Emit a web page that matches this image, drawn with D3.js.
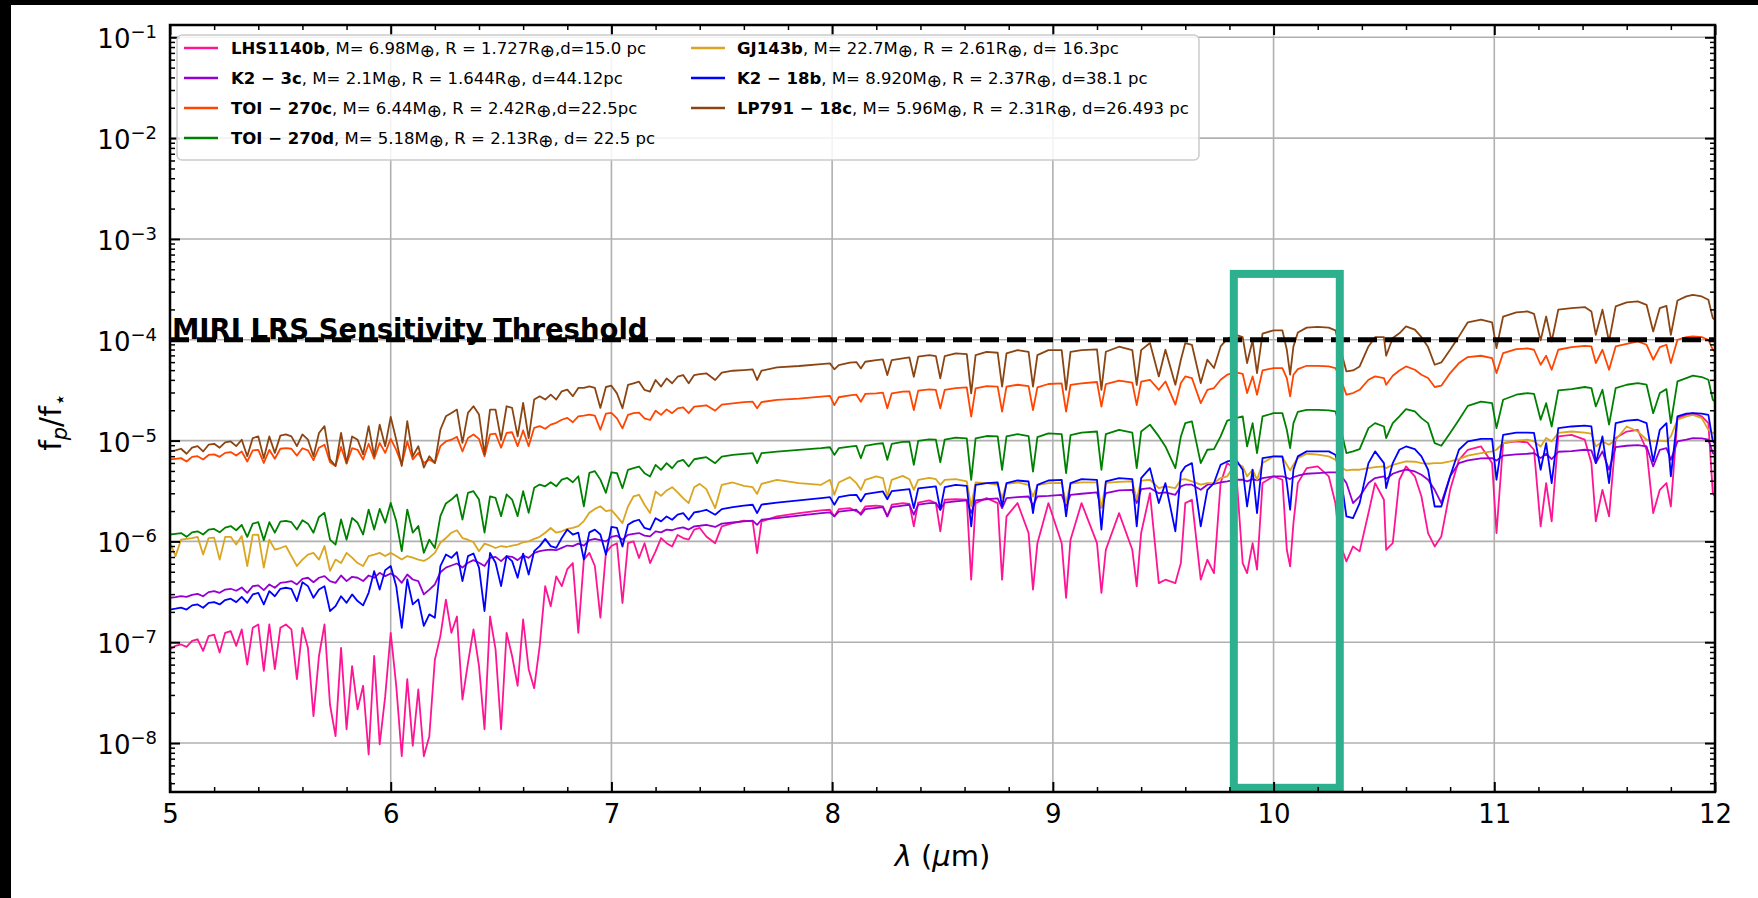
<!DOCTYPE html>
<html><head><meta charset="utf-8">
<script src="https://cdn.jsdelivr.net/npm/d3@7"></script>
<style>
html,body{margin:0;padding:0;background:#fff;}
svg{display:block;font-family:"DejaVu Sans",sans-serif;}
</style></head><body>
<svg id="chart" width="1758" height="898"></svg>
<script>
// ---------------- DATA ----------------
const wavelength = [
5.000,5.025,5.050,5.075,5.100,5.125,5.150,5.175,5.200,5.225,5.250,5.275,5.300,5.325,5.350,5.375,5.400,5.425,5.450,5.475,
5.500,5.525,5.550,5.575,5.600,5.625,5.650,5.675,5.700,5.725,5.750,5.775,5.800,5.825,5.850,5.875,5.900,5.925,5.950,5.975,
6.000,6.025,6.050,6.075,6.100,6.125,6.150,6.175,6.200,6.225,6.250,6.275,6.300,6.325,6.350,6.375,6.400,6.425,6.450,6.475,
6.500,6.525,6.550,6.575,6.600,6.625,6.650,6.675,6.700,6.725,6.750,6.775,6.800,6.825,6.850,6.875,6.900,6.925,6.950,6.975,7.000,
7.025,7.05,7.075,7.10,7.125,7.15,7.175,7.20,7.225,7.25,7.275,7.30,7.325,7.35,7.375,7.40,7.43,7.47,7.50,7.55,7.60,
7.64,7.66,7.68,7.75,7.85,7.95,7.99,8.01,8.03,8.08,8.11,8.13,8.15,8.20,8.23,8.25,8.27,8.32,8.35,8.37,8.39,8.44,
8.47,8.49,8.51,8.56,8.61,8.63,8.65,8.70,8.75,8.77,8.79,8.84,8.89,8.91,8.93,8.98,9.04,9.06,9.08,9.13,9.20,9.22,9.24,9.30,9.36,9.38,9.40,
9.44,9.48,9.51,9.555,9.58,9.60,9.63,9.67,9.70,9.73,9.76,9.79,9.83,9.86,9.88,9.905,9.925,9.95,10.0,10.04,
10.06,10.075,10.09,10.11,10.15,10.20,10.25,10.28,10.30,10.33,10.36,10.39,10.43,10.46,10.50,10.51,10.54,10.57,10.60,10.64,
10.67,10.70,10.73,10.76,10.80,10.84,10.88,10.94,10.99,11.01,11.04,11.10,11.15,11.18,11.21,11.235,11.26,11.29,11.35,11.41,
11.44,11.46,11.49,11.52,11.55,11.60,11.65,11.69,11.72,11.75,11.78,11.80,11.83,11.87,11.90,11.94,11.97,11.99,12.0
];

const fluxLHS1140b = [
8.5e-8,9.2e-8,9.5e-8,9.0e-8,1.03e-7,1.07e-7,8.2e-8,1.15e-7,1.19e-7,7.9e-8,
1.24e-7,1.29e-7,9.2e-8,1.34e-7,6.0e-8,1.39e-7,1.5e-7,5.2e-8,1.5e-7,5.4e-8,
1.39e-7,1.5e-7,1.34e-7,4.3e-8,1.39e-7,8.8e-8,1.85e-8,7.3e-8,1.5e-7,2.4e-8,
1.17e-8,8.8e-8,1.37e-8,5.8e-8,2.16e-8,3.7e-8,7.7e-9,7.3e-8,9.7e-9,2.9e-8,
1.24e-7,3.7e-8,7.4e-9,4.3e-8,9.4e-9,3.4e-8,7.4e-9,1.17e-8,6.7e-8,1.15e-7,
2.65e-7,1.24e-7,1.8e-7,2.7e-8,6.2e-8,1.34e-7,5.8e-8,1.37e-8,1.8e-7,8.5e-8,
1.37e-8,1.24e-7,7.3e-8,3.7e-8,1.68e-7,5.4e-8,3.5e-8,9.2e-8,3.6e-7,2.28e-7,
4.5e-7,3.6e-7,5.3e-7,6.1e-7,1.24e-7,6.6e-7,7.7e-7,5.7e-7,1.75e-7,7.7e-7,9.0e-7,
9.6e-7,2.45e-7,9.6e-7,1.0e-6,6.84e-7,9.6e-7,6.1e-7,7.96e-7,1.08e-6,9.6e-7,8.9e-7,1.16e-6,1.08e-6,1.04e-6,1.31e-6,1.36e-6,
1.12e-6,9.6e-7,1.41e-6,1.52e-6,1.61e-6,
1.58e-6,7.66e-7,1.58e-6,1.77e-6,1.91e-6,2.03e-6,
2.06e-6,1.77e-6,2.09e-6,2.14e-6, 1.98e-6,1.91e-6,2.22e-6,2.26e-6, 2.22e-6,1.77e-6,2.31e-6,2.4e-6, 2.36e-6,1.41e-6,2.43e-6,2.55e-6,
2.4e-6,1.26e-6,2.59e-6,2.62e-6, 2.59e-6,4.17e-7,2.4e-6,2.69e-6, 2.4e-6,4.17e-7,1.77e-6,2.4e-6, 1.21e-6,3.32e-7,9.6e-7,2.4e-6,
9.6e-7,2.75e-7,1.04e-6,2.4e-6, 9.6e-7,3.08e-7,8.26e-7,1.91e-6, 8.26e-7,3.58e-7,1.21e-6,
3.01e-6,3.86e-7,4.17e-7,3.86e-7,6.1e-7,2.4e-6,2.59e-6,4.17e-7,6.58e-7,4.85e-7,
3.79e-6,5.98e-6,5.14e-6,6.1e-7,4.85e-7,9.62e-7,5.24e-7,3.79e-6,4.42e-6,4.09e-6,
8.26e-7,5.65e-7,1.52e-6,3.79e-6,5.33e-6,5.54e-6,4.42e-6,2.4e-6,9.62e-7,6.34e-7,
8.91e-7,7.96e-7,1.91e-6,3.79e-6,2.59e-6,8.26e-7,9.62e-7,4.09e-6,5.54e-6,4.42e-6,
2.79e-6,1.21e-6,8.91e-7,1.12e-6,3.25e-6,6.45e-6,8.11e-6,8.75e-6,5.98e-6,1.21e-6,
9.44e-6,9.82e-6,9.6e-6,8.11e-6,1.41e-6,3.79e-6,1.58e-6,1.1e-5,1.14e-5,1.02e-5,
5.98e-6,1.58e-6,3.25e-6,1.77e-6,1.06e-5,1.23e-5,1.28e-5,8.11e-6,1.91e-6,3.25e-6,
3.79e-6,2.22e-6,1.67e-5,1.8e-5,1.87e-5,1.74e-5,1.49e-5,3.01e-6,2.79e-6
];

const fluxK2_3c = [
2.76e-7,2.8e-7,2.86e-7,2.82e-7,2.95e-7,3.02e-7,2.86e-7,3.14e-7,3.21e-7,3.09e-7,
3.33e-7,3.39e-7,3.24e-7,3.49e-7,3.09e-7,3.6e-7,3.66e-7,3.29e-7,3.74e-7,3.47e-7,
3.88e-7,3.94e-7,4.04e-7,3.74e-7,4.26e-7,4.36e-7,3.94e-7,4.36e-7,4.52e-7,4.04e-7,
3.88e-7,4.59e-7,4.04e-7,4.46e-7,4.36e-7,4.04e-7,4.59e-7,4.36e-7,4.88e-7,4.52e-7,
4.81e-7,4.46e-7,3.88e-7,4.7e-7,4.19e-7,4.04e-7,2.98e-7,3.33e-7,3.74e-7,4.95e-7,
5.5e-7,5.77e-7,6.04e-7,5.5e-7,6.14e-7,6.52e-7,6.14e-7,5.69e-7,6.87e-7,7.03e-7,
6.37e-7,7.14e-7,7.03e-7,6.52e-7,7.25e-7,6.87e-7,7.7e-7,8.0e-7,8.18e-7,8.3e-7,
8.18e-7,8.63e-7,9.1e-7,8.97e-7,9.5e-7,9.1e-7,1.03e-6,1.06e-6,1.03e-6,1.0e-6,1.11e-6,
1.14e-6,1.04e-6,1.16e-6,1.19e-6,1.21e-6,1.14e-6,1.12e-6,1.26e-6,1.23e-6,1.31e-6,1.29e-6,1.35e-6,1.38e-6,1.31e-6,1.41e-6,1.43e-6,
1.46e-6,1.39e-6,1.5e-6,1.54e-6,1.58e-6,
1.61e-6,1.46e-6,1.64e-6,1.7e-6,1.8e-6,1.91e-6,
1.94e-6,1.77e-6,1.97e-6,2.03e-6, 2.06e-6,1.84e-6,2.09e-6,2.15e-6, 2.19e-6,1.77e-6,2.19e-6,2.26e-6, 2.31e-6,1.84e-6,2.32e-6,2.4e-6,
2.4e-6,2.06e-6,2.43e-6,2.49e-6, 2.55e-6,1.91e-6,2.55e-6,2.62e-6, 2.67e-6,2.14e-6,2.69e-6,2.75e-6, 2.79e-6,2.26e-6,2.79e-6,2.83e-6,
2.9e-6,2.22e-6,2.9e-6,2.97e-6, 3.06e-6,2.14e-6,3.01e-6,3.2e-6, 3.25e-6,2.4e-6,3.3e-6,
3.38e-6,3.01e-6,3.06e-6,2.9e-6,3.51e-6,3.65e-6,3.65e-6,3.25e-6,3.65e-6,3.73e-6,
3.85e-6,3.94e-6,4.09e-6,4.09e-6,3.94e-6,4.15e-6,4.03e-6,4.25e-6,4.42e-6,4.42e-6,
4.28e-6,4.15e-6,4.35e-6,4.48e-6,4.69e-6,4.76e-6,4.83e-6,4.83e-6,4.69e-6,3.79e-6,
2.4e-6,2.79e-6,3.79e-6,4.25e-6,4.42e-6,4.15e-6,4.69e-6,4.94e-6,5.14e-6,4.94e-6,
4.58e-6,4.09e-6,3.25e-6,2.4e-6,4.42e-6,5.98e-6,6.35e-6,6.65e-6,6.7e-6,6.35e-6,
7.08e-6,7.3e-6,7.4e-6,7.52e-6,6.7e-6,7.4e-6,6.55e-6,7.75e-6,7.87e-6,8.11e-6,
7.99e-6,5.98e-6,7.81e-6,5.14e-6,8.63e-6,8.89e-6,9.02e-6,8.75e-6,5.54e-6,8.11e-6,
8.43e-6,6.45e-6,9.82e-6,1.02e-5,1.06e-5,1.05e-5,1.02e-5,7.52e-6,7.4e-6
];

const fluxTOI270c = [
6.5e-6,6.6e-6,6.7e-6,6.2e-6,6.9e-6,7.0e-6,6.5e-6,7.2e-6,7.3e-6,6.9e-6,
7.55e-6,7.7e-6,7.1e-6,7.8e-6,6.2e-6,8.0e-6,8.1e-6,6.0e-6,8.1e-6,6.6e-6,
8.3e-6,8.4e-6,8.3e-6,7.1e-6,8.4e-6,8.0e-6,6.4e-6,8.5e-6,9.1e-6,6.1e-6,
5.6e-6,8.65e-6,5.9e-6,8.4e-6,8.1e-6,6.5e-6,9.3e-6,6.6e-6,9.5e-6,7.55e-6,
1.04e-5,8.1e-6,5.8e-6,9.8e-6,6.5e-6,7.55e-6,6.0e-6,6.5e-6,6.0e-6,8.8e-6,
9.8e-6,1.02e-5,1.09e-5,7.8e-6,1.06e-5,1.15e-5,1.04e-5,7.0e-6,1.15e-5,1.17e-5,
8.5e-6,1.19e-5,1.21e-5,8.8e-6,1.26e-5,8.8e-6,1.34e-5,1.39e-5,1.31e-5,1.44e-5,
1.5e-5,1.61e-5,1.68e-5,1.52e-5,1.74e-5,1.77e-5,1.81e-5,1.77e-5,1.28e-5,1.85e-5,1.88e-5,
1.66e-5,1.32e-5,1.8e-5,1.87e-5,1.89e-5,1.66e-5,1.6e-5,1.98e-5,1.8e-5,2.04e-5,1.87e-5,2.09e-5,2.14e-5,1.87e-5,2.17e-5,2.2e-5,
2.24e-5,1.98e-5,2.27e-5,2.34e-5,2.41e-5,
2.43e-5,2.09e-5,2.41e-5,2.53e-5,2.61e-5,2.73e-5,
2.77e-5,2.25e-5,2.69e-5,2.81e-5, 2.85e-5,2.43e-5,2.9e-5,2.94e-5, 2.99e-5,2.09e-5,2.94e-5,3.06e-5, 3.08e-5,2.01e-5,3.13e-5,3.22e-5,
3.18e-5,2.09e-5,3.18e-5,3.32e-5, 3.37e-5,1.73e-5,3.3e-5,3.47e-5, 3.43e-5,1.94e-5,3.43e-5,3.58e-5, 3.47e-5,2.01e-5,3.37e-5,3.64e-5,
3.7e-5,1.94e-5,3.56e-5,3.7e-5, 3.81e-5,2.17e-5,3.64e-5,3.93e-5, 3.75e-5,2.25e-5,3.84e-5,
4.01e-5,3.19e-5,3.86e-5,2.27e-5,3.72e-5,4.33e-5,4.17e-5,2.35e-5,3.19e-5,3.32e-5,
4.01e-5,4.5e-5,4.74e-5,4.6e-5,2.96e-5,4.33e-5,2.85e-5,4.96e-5,5.24e-5,5.24e-5,
4.17e-5,2.74e-5,4.5e-5,5.12e-5,5.52e-5,5.52e-5,5.44e-5,5.24e-5,4.33e-5,2.85e-5,
2.96e-5,3.19e-5,4.01e-5,4.33e-5,4.17e-5,3.58e-5,4.4e-5,4.96e-5,5.44e-5,5.04e-5,
4.5e-5,4.17e-5,3.4e-5,3.5e-5,4.67e-5,5.87e-5,6.73e-5,6.94e-5,6.58e-5,4.67e-5,
7.38e-5,8.07e-5,8.2e-5,7.96e-5,5.65e-5,6.94e-5,5.04e-5,7.96e-5,8.46e-5,8.71e-5,
8.59e-5,5.87e-5,7.96e-5,5.04e-5,8.59e-5,9.12e-5,9.62e-5,8.92e-5,6.34e-5,8.46e-5,
8.92e-5,5.87e-5,1.0e-4,1.06e-4,1.08e-4,1.06e-4,1.0e-4,7.96e-5,7.66e-5
];

const fluxTOI270d = [
1.17e-6,1.19e-6,1.21e-6,1.11e-6,1.23e-6,1.26e-6,1.17e-6,1.31e-6,1.33e-6,1.23e-6,
1.37e-6,1.42e-6,1.29e-6,1.46e-6,1.11e-6,1.5e-6,1.55e-6,1.03e-6,1.55e-6,1.22e-6,
1.57e-6,1.6e-6,1.55e-6,1.31e-6,1.62e-6,1.5e-6,1.22e-6,1.75e-6,1.92e-6,1.04e-6,
9.3e-7,1.65e-6,1.04e-6,1.71e-6,1.53e-6,1.17e-6,2.07e-6,1.31e-6,2.1e-6,1.53e-6,
2.41e-6,1.59e-6,8.0e-7,2.07e-6,1.22e-6,1.42e-6,7.7e-7,1.04e-6,8.6e-7,1.78e-6,
2.38e-6,2.6e-6,2.92e-6,1.65e-6,3.03e-6,3.15e-6,2.6e-6,1.22e-6,2.8e-6,2.7e-6,
1.78e-6,2.92e-6,2.6e-6,1.78e-6,3.15e-6,1.92e-6,3.4e-6,3.66e-6,3.52e-6,3.86e-6,
3.52e-6,4.1e-6,4.26e-6,3.86e-6,4.43e-6,2.23e-6,4.79e-6,4.97e-6,4.1e-6,3.03e-6,4.85e-6,
4.75e-6,3.37e-6,5.13e-6,5.32e-6,5.53e-6,4.75e-6,4.41e-6,5.74e-6,5.13e-6,5.97e-6,5.32e-6,6.2e-6,6.44e-6,5.53e-6,6.53e-6,6.68e-6,
6.84e-6,5.97e-6,6.95e-6,7.21e-6,7.38e-6,
7.5e-6,5.97e-6,7.5e-6,7.78e-6,8.09e-6,8.4e-6,
8.59e-6,7.21e-6,8.4e-6,8.73e-6, 8.85e-6,6.68e-6,8.85e-6,9.27e-6, 9.41e-6,6.44e-6,9.27e-6,9.7e-6, 9.77e-6,5.74e-6,9.93e-6,1.03e-5,
1.02e-5,6.1e-6,1.02e-5,1.07e-5, 1.05e-5,4.08e-6,1.05e-5,1.11e-5, 1.1e-5,5.13e-6,1.1e-5,1.16e-5, 1.11e-5,4.93e-6,1.08e-5,1.18e-5,
1.16e-5,4.75e-6,1.13e-5,1.2e-5, 1.23e-5,5.13e-6,1.16e-5,1.28e-5, 1.2e-5,5.32e-6,1.23e-5,
1.44e-5,1.1e-5,8.75e-6,5.33e-6,1.1e-5,1.49e-5,1.55e-5,5.98e-6,8.11e-6,8.24e-6,
1.1e-5,1.58e-5,1.67e-5,1.74e-5,8.75e-6,1.49e-5,7.52e-6,1.74e-5,1.87e-5,1.87e-5,
1.28e-5,8.43e-6,1.49e-5,1.93e-5,2.02e-5,2.02e-5,1.99e-5,1.95e-5,1.44e-5,7.52e-6,
7.81e-6,8.24e-6,1.33e-5,1.49e-5,1.38e-5,1.06e-5,1.49e-5,1.74e-5,2.05e-5,1.95e-5,
1.67e-5,1.49e-5,9.44e-6,8.89e-6,1.19e-5,1.61e-5,2.21e-5,2.44e-5,2.35e-5,1.33e-5,
2.54e-5,2.85e-5,2.96e-5,2.91e-5,1.61e-5,2.35e-5,1.38e-5,3.15e-5,3.24e-5,3.4e-5,
3.32e-5,2.18e-5,3.19e-5,1.44e-5,3.32e-5,3.58e-5,3.72e-5,3.58e-5,1.87e-5,2.96e-5,
3.24e-5,1.49e-5,3.86e-5,4.17e-5,4.4e-5,4.27e-5,4.01e-5,2.54e-5,2.44e-5
];

const fluxGJ143b = [
9.7e-7,7.15e-7,1.04e-6,1.06e-6,1.08e-6,1.11e-6,7.4e-7,1.08e-6,1.09e-6,6.6e-7,
1.11e-6,1.11e-6,9.3e-7,1.13e-6,5.7e-7,1.16e-6,1.17e-6,5.5e-7,1.04e-6,8.3e-7,
8.6e-7,9.0e-7,7.15e-7,5.7e-7,6.6e-7,7.4e-7,7.7e-7,6.6e-7,9.0e-7,5.1e-7,
6.6e-7,6.1e-7,7.7e-7,6.9e-7,6.1e-7,5.7e-7,7.15e-7,7.4e-7,7.7e-7,7.15e-7,
7.7e-7,7.15e-7,6.6e-7,7.15e-7,6.9e-7,6.6e-7,6.4e-7,6.9e-7,7.7e-7,9.7e-7,
1.08e-6,1.22e-6,1.29e-6,1.08e-6,1.04e-6,9.8e-7,8.0e-7,9.5e-7,9.1e-7,8.6e-7,
9.0e-7,8.8e-7,9.1e-7,9.3e-7,9.8e-7,1.0e-6,1.06e-6,1.11e-6,1.22e-6,1.36e-6,
1.22e-6,1.26e-6,1.33e-6,1.36e-6,1.42e-6,1.59e-6,1.92e-6,2.1e-6,2.23e-6,2.0e-6,2.04e-6,
1.77e-6,1.52e-6,2.22e-6,2.79e-6,2.9e-6,2.31e-6,1.91e-6,3.13e-6,2.83e-6,3.2e-6,3.45e-6,3.06e-6,2.69e-6,2.4e-6,3.45e-6,3.72e-6,
3.3e-6,2.14e-6,3.64e-6,3.84e-6,3.56e-6,
3.45e-6,2.96e-6,3.72e-6,4.08e-6,3.78e-6,3.64e-6,
4.08e-6,2.9e-6,3.84e-6,4.34e-6, 3.78e-6,3.25e-6,4.08e-6,4.41e-6, 4.24e-6,2.79e-6,4.08e-6,4.47e-6, 4.14e-6,3.25e-6,4.08e-6,4.27e-6,
4.14e-6,3.64e-6,4.08e-6,4.14e-6, 3.93e-6,2.22e-6,3.84e-6,3.78e-6, 3.64e-6,2.69e-6,3.72e-6,3.84e-6, 3.64e-6,2.79e-6,3.61e-6,3.78e-6,
3.8e-6,2.4e-6,3.75e-6,3.85e-6, 3.85e-6,2.14e-6,3.8e-6,3.9e-6, 3.95e-6,2.59e-6,4.0e-6,
4.09e-6,3.38e-6,3.51e-6,3.38e-6,4.09e-6,4.15e-6,3.94e-6,3.65e-6,3.79e-6,3.79e-6,
4.25e-6,4.42e-6,5.98e-6,5.54e-6,4.42e-6,5.14e-6,4.09e-6,5.98e-6,6.97e-6,6.86e-6,
5.75e-6,5.06e-6,5.75e-6,6.7e-6,7.4e-6,7.24e-6,6.97e-6,6.45e-6,5.54e-6,5.06e-6,
5.14e-6,5.14e-6,5.33e-6,5.46e-6,5.54e-6,5.33e-6,5.75e-6,5.98e-6,6.21e-6,6.17e-6,
5.98e-6,5.89e-6,5.98e-6,5.98e-6,6.21e-6,6.56e-6,7.08e-6,7.52e-6,7.81e-6,8.11e-6,
9.44e-6,1.0e-5,1.02e-5,9.82e-6,8.75e-6,1.06e-5,9.82e-6,1.19e-5,1.23e-5,1.2e-5,
1.17e-5,8.75e-6,9.82e-6,9.1e-6,1.02e-5,1.38e-5,1.23e-5,1.02e-5,9.82e-6,1.0e-5,
9.82e-6,1.1e-5,1.61e-5,1.74e-5,1.8e-5,1.67e-5,1.28e-5,1.19e-5,1.17e-5
];

const fluxK2_18b = [
2.11e-7,2.15e-7,2.2e-7,2.11e-7,2.32e-7,2.37e-7,2.2e-7,2.46e-7,2.5e-7,2.37e-7,
2.62e-7,2.7e-7,2.5e-7,2.82e-7,2.46e-7,2.98e-7,3.09e-7,2.37e-7,3.21e-7,2.86e-7,
3.39e-7,3.47e-7,3.39e-7,2.56e-7,3.94e-7,3.6e-7,2.76e-7,3.33e-7,3.6e-7,2.04e-7,
2.28e-7,2.86e-7,2.46e-7,2.98e-7,2.56e-7,2.32e-7,3.09e-7,5.07e-7,3.33e-7,5.19e-7,
5.69e-7,3.6e-7,1.39e-7,4.19e-7,2.37e-7,2.66e-7,1.45e-7,1.89e-7,1.75e-7,5.69e-7,
7.41e-7,6.87e-7,7.82e-7,4.04e-7,7.14e-7,7.58e-7,5.5e-7,2.04e-7,7.7e-7,6.14e-7,
3.6e-7,7.14e-7,6.37e-7,4.36e-7,7.58e-7,4.7e-7,8.0e-7,8.97e-7,1.06e-6,8.97e-7,
8.63e-7,1.08e-6,1.31e-6,1.17e-6,1.22e-6,6.62e-7,1.23e-6,1.31e-6,1.17e-6,7.41e-7,1.39e-6,
1.36e-6,8.9e-7,1.46e-6,1.58e-6,1.64e-6,1.36e-6,1.31e-6,1.7e-6,1.58e-6,1.77e-6,1.64e-6,1.84e-6,1.91e-6,1.64e-6,1.94e-6,1.98e-6,
2.06e-6,1.84e-6,2.09e-6,2.19e-6,2.26e-6,
2.31e-6,1.91e-6,2.32e-6,2.43e-6,2.55e-6,2.69e-6,
2.75e-6,2.31e-6,2.75e-6,2.88e-6, 2.9e-6,2.49e-6,2.94e-6,3.06e-6, 3.13e-6,2.62e-6,3.15e-6,3.25e-6, 3.3e-6,2.14e-6,3.35e-6,3.45e-6,
3.51e-6,2.06e-6,3.45e-6,3.64e-6, 3.56e-6,1.41e-6,3.64e-6,3.78e-6, 3.84e-6,2.22e-6,3.78e-6,4.02e-6, 3.93e-6,1.91e-6,3.64e-6,4.02e-6,
4.08e-6,1.77e-6,3.78e-6,4.14e-6, 4.08e-6,1.31e-6,3.93e-6,4.24e-6, 4.14e-6,1.41e-6,4.24e-6,
5.33e-6,2.4e-6,3.79e-6,1.26e-6,4.76e-6,5.54e-6,5.98e-6,1.41e-6,3.25e-6,3.79e-6,
5.75e-6,6.21e-6,6.45e-6,5.14e-6,2.22e-6,5.14e-6,1.91e-6,6.7e-6,6.97e-6,6.97e-6,
3.79e-6,2.06e-6,5.14e-6,6.97e-6,7.81e-6,7.81e-6,7.81e-6,7.24e-6,5.14e-6,1.77e-6,
1.7e-6,2.4e-6,5.98e-6,7.81e-6,5.98e-6,3.38e-6,5.98e-6,8.11e-6,8.75e-6,8.24e-6,
6.97e-6,5.14e-6,2.22e-6,2.22e-6,4.42e-6,8.11e-6,9.82e-6,1.04e-5,1.04e-5,4.09e-6,
1.14e-5,1.2e-5,1.2e-5,1.19e-5,5.14e-6,9.44e-6,3.79e-6,1.33e-5,1.38e-5,1.41e-5,
1.38e-5,5.98e-6,1.1e-5,3.79e-6,1.49e-5,1.58e-5,1.61e-5,1.49e-5,6.21e-6,1.28e-5,
1.49e-5,4.42e-6,1.74e-5,1.85e-5,1.87e-5,1.85e-5,1.8e-5,9.82e-6,9.44e-6
];

const fluxLP791_18c = [
7.8e-6,8.0e-6,8.3e-6,7.4e-6,8.5e-6,8.8e-6,7.8e-6,9.1e-6,9.3e-6,8.5e-6,
9.6e-6,9.8e-6,8.8e-6,1.02e-5,7.0e-6,1.06e-5,1.1e-5,6.7e-6,1.1e-5,7.55e-6,
1.12e-5,1.15e-5,1.1e-5,8.8e-6,1.15e-5,1.02e-5,7.0e-6,1.19e-5,1.39e-5,6.5e-6,
5.6e-6,1.19e-5,6.0e-6,1.1e-5,1.02e-5,7.3e-6,1.39e-5,7.0e-6,1.44e-5,8.8e-6,
1.72e-5,1.02e-5,5.6e-6,1.56e-5,7.0e-6,8.8e-6,5.4e-6,7.0e-6,6.0e-6,1.28e-5,
1.74e-5,1.88e-5,2.03e-5,9.5e-6,1.88e-5,2.19e-5,1.81e-5,7.3e-6,2.03e-5,2.03e-5,
1.02e-5,2.19e-5,2.11e-5,1.1e-5,2.36e-5,1.06e-5,2.55e-5,2.75e-5,2.55e-5,2.86e-5,
2.55e-5,3.08e-5,3.2e-5,2.75e-5,3.33e-5,3.33e-5,3.45e-5,3.33e-5,2.11e-5,3.4e-5,3.5e-5,
2.94e-5,2.09e-5,3.56e-5,3.7e-5,3.84e-5,3.18e-5,3.06e-5,3.99e-5,3.43e-5,4.14e-5,3.7e-5,4.3e-5,4.47e-5,3.7e-5,4.47e-5,4.57e-5,
4.65e-5,3.99e-5,4.71e-5,4.93e-5,5.01e-5,
5.09e-5,3.99e-5,4.93e-5,5.33e-5,5.49e-5,5.74e-5,
5.83e-5,5.09e-5,5.61e-5,5.92e-5, 6.01e-5,5.2e-5,6.05e-5,6.29e-5, 6.38e-5,4.47e-5,6.29e-5,6.53e-5, 6.68e-5,4.3e-5,6.79e-5,7.05e-5,
6.89e-5,4.14e-5,6.89e-5,7.32e-5, 7.21e-5,2.94e-5,7.05e-5,7.6e-5, 7.43e-5,3.43e-5,7.32e-5,7.9e-5, 7.6e-5,3.43e-5,7.05e-5,7.9e-5,
7.9e-5,3.18e-5,7.6e-5,7.9e-5, 8.02e-5,3.18e-5,7.6e-5,8.53e-5, 7.9e-5,3.56e-5,7.9e-5,
9.27e-5,4.33e-5,7.96e-5,3.58e-5,6.34e-5,9.27e-5,8.92e-5,3.72e-5,6.34e-5,5.24e-5,
8.59e-5,1.02e-4,1.12e-4,1.06e-4,5.87e-5,9.85e-5,4.67e-5,1.15e-4,1.24e-4,1.24e-4,
7.96e-5,4.5e-5,8.59e-5,1.18e-4,1.32e-4,1.34e-4,1.32e-4,1.24e-4,8.59e-5,4.85e-5,
4.96e-5,5.44e-5,8.59e-5,1.06e-4,1.06e-4,6.94e-5,1.04e-4,1.16e-4,1.36e-4,1.26e-4,
1.06e-4,8.46e-5,5.65e-5,5.96e-5,7.96e-5,1.08e-4,1.49e-4,1.58e-4,1.49e-4,8.27e-5,
1.7e-4,1.87e-4,1.91e-4,1.81e-4,9.85e-5,1.7e-4,9.62e-5,1.99e-4,2.06e-4,2.11e-4,
1.91e-4,1.12e-4,1.99e-4,9.62e-5,2.14e-4,2.35e-4,2.4e-4,2.22e-4,1.21e-4,2.06e-4,
2.17e-4,1.12e-4,2.45e-4,2.69e-4,2.79e-4,2.69e-4,2.49e-4,1.64e-4,1.58e-4
];

const planetNames = ["LHS1140b","K2 − 3c","TOI − 270c","TOI − 270d","GJ143b","K2 − 18b","LP791 − 18c"];
const planetDetails = [
 ", M= 6.98M⊕, R = 1.727R⊕,d=15.0 pc",
 ", M= 2.1M⊕, R = 1.644R⊕, d=44.12pc",
 ", M= 6.44M⊕, R = 2.42R⊕,d=22.5pc",
 ", M= 5.18M⊕, R = 2.13R⊕, d= 22.5 pc",
 ", M= 22.7M⊕, R = 2.61R⊕, d= 16.3pc",
 ", M= 8.920M⊕, R = 2.37R⊕, d=38.1 pc",
 ", M= 5.96M⊕, R = 2.31R⊕, d=26.493 pc"
];
const planetColors = ["#ff1493","#9400d3","#ff4500","#008000","#daa520","#0000ff","#8b4513"];
const planetFluxes = [fluxLHS1140b, fluxK2_3c, fluxTOI270c, fluxTOI270d, fluxGJ143b, fluxK2_18b, fluxLP791_18c];

const xTicks = [5,6,7,8,9,10,11,12];
const yTickExponents = [-8,-7,-6,-5,-4,-3,-2,-1];
const xDomain = [5,12];
const yDomain = [3.27e-9, 0.1324];
const thresholdFlux = 1e-4;
const thresholdLabel = "MIRI LRS Sensitivity Threshold";
const highlightBand = [9.82, 10.30];
const highlightFlux = [3.6e-9, 4.5e-4];

// ---------------- DRAW ----------------
const svg = d3.select("#chart");
const L=170, R=1715, T=25, B=792;
const x = d3.scaleLinear().domain(xDomain).range([L,R]);
const y = d3.scaleLog().domain(yDomain).range([B,T]);

svg.append("rect").attr("x",0).attr("y",0).attr("width",1758).attr("height",898).attr("fill","#fff");
svg.append("rect").attr("x",0).attr("y",0).attr("width",11).attr("height",898).attr("fill","#000");
svg.append("rect").attr("x",0).attr("y",0).attr("width",1758).attr("height",5).attr("fill","#000");

svg.append("defs").append("clipPath").attr("id","plotclip")
  .append("rect").attr("x",L).attr("y",T).attr("width",R-L).attr("height",B-T);

// grid
const grid = svg.append("g");
xTicks.forEach(t=>{
  grid.append("line").attr("x1",x(t)).attr("x2",x(t)).attr("y1",T).attr("y2",B)
   .attr("stroke","#b0b0b0").attr("stroke-width",1.6);
});
yTickExponents.forEach(e=>{
  const v=Math.pow(10,e);
  grid.append("line").attr("x1",L).attr("x2",R).attr("y1",y(v)).attr("y2",y(v))
   .attr("stroke","#b0b0b0").attr("stroke-width",1.6);
});

// spectra
const plot = svg.append("g").attr("clip-path","url(#plotclip)");
const line = d3.line().x(d=>x(d[0])).y(d=>y(d[1]));
planetFluxes.forEach((vals,i)=>{
  const data = wavelength.map((w,j)=>[w, vals[j]]).filter(d=>d[1]!==undefined);
  plot.append("path").datum(data).attr("d",line).attr("fill","none")
    .attr("stroke",planetColors[i]).attr("stroke-width",1.8).attr("stroke-linejoin","round");
});

// threshold
plot.append("line").attr("x1",x(xDomain[0])).attr("x2",x(xDomain[1]))
  .attr("y1",y(thresholdFlux)).attr("y2",y(thresholdFlux))
  .attr("stroke","#000").attr("stroke-width",5).attr("stroke-dasharray","19,8");
svg.append("text").attr("x",x(5)+2).attr("y",y(thresholdFlux)-1)
  .attr("font-size",27.5).attr("font-weight","bold").attr("fill","#000").text(thresholdLabel);

// highlight rectangle
svg.append("rect").attr("x",x(highlightBand[0])).attr("y",y(highlightFlux[1]))
  .attr("width",x(highlightBand[1])-x(highlightBand[0]))
  .attr("height",y(highlightFlux[0])-y(highlightFlux[1]))
  .attr("fill","none").attr("stroke","#2cb08e").attr("stroke-width",8);

// axes ticks
const xMinor = d3.range(50,121,2).map(v=>v/10).filter(v=>!xTicks.includes(v));
const yMinor = [];
for(let e=-9;e<=-1;e++){ for(let k=2;k<=9;k++){ const v=k*Math.pow(10,e); if(v>yDomain[0]&&v<yDomain[1]) yMinor.push(v);} }
const yMajor = yTickExponents.map(e=>Math.pow(10,e));

function styleAxis(g,w){ g.select(".domain").remove(); g.selectAll(".tick line").attr("stroke","#000").attr("stroke-width",w); }
svg.append("g").attr("transform",`translate(0,${B})`).call(d3.axisBottom(x).tickValues(xTicks).tickSizeInner(-10).tickSizeOuter(0).tickPadding(13).tickFormat(d3.format("d")))
  .call(g=>{styleAxis(g,2); g.selectAll("text").attr("font-size",26).attr("font-family","DejaVu Sans").attr("fill","#000");});
svg.append("g").attr("transform",`translate(0,${B})`).call(d3.axisBottom(x).tickValues(xMinor).tickSizeInner(-5).tickSizeOuter(0).tickFormat(""))
  .call(g=>styleAxis(g,1.5));
svg.append("g").attr("transform",`translate(0,${T})`).call(d3.axisTop(x).tickValues(xTicks).tickSizeInner(-10).tickSizeOuter(0).tickFormat(""))
  .call(g=>styleAxis(g,2));
svg.append("g").attr("transform",`translate(0,${T})`).call(d3.axisTop(x).tickValues(xMinor).tickSizeInner(-5).tickSizeOuter(0).tickFormat(""))
  .call(g=>styleAxis(g,1.5));
svg.append("g").attr("transform",`translate(${L},0)`).call(d3.axisLeft(y).tickValues(yMajor).tickSizeInner(-10).tickSizeOuter(0).tickFormat(""))
  .call(g=>styleAxis(g,2));
svg.append("g").attr("transform",`translate(${L},0)`).call(d3.axisLeft(y).tickValues(yMinor).tickSizeInner(-5).tickSizeOuter(0).tickFormat(""))
  .call(g=>styleAxis(g,1.5));
svg.append("g").attr("transform",`translate(${R},0)`).call(d3.axisRight(y).tickValues(yMajor).tickSizeInner(-10).tickSizeOuter(0).tickFormat(""))
  .call(g=>styleAxis(g,2));
svg.append("g").attr("transform",`translate(${R},0)`).call(d3.axisRight(y).tickValues(yMinor).tickSizeInner(-5).tickSizeOuter(0).tickFormat(""))
  .call(g=>styleAxis(g,1.5));

// y tick labels
yTickExponents.forEach(e=>{
  const t = svg.append("text").attr("x",157).attr("y",y(Math.pow(10,e))+11)
    .attr("text-anchor","end").attr("font-size",26).attr("fill","#000");
  t.append("tspan").text("10");
  t.append("tspan").attr("dy",-10).attr("font-size",18).text("−"+Math.abs(e));
});

// spines
svg.append("rect").attr("x",L).attr("y",T).attr("width",R-L).attr("height",B-T)
  .attr("fill","none").attr("stroke","#000").attr("stroke-width",2.5);

// axis labels
const xl = svg.append("text").attr("x",(L+R)/2).attr("y",866).attr("text-anchor","middle").attr("font-size",29).attr("fill","#000");
xl.append("tspan").attr("font-style","italic").text("λ");
xl.append("tspan").text(" (");
xl.append("tspan").attr("font-style","italic").text("μ");
xl.append("tspan").text("m)");

const yl = svg.append("text").attr("transform",`translate(61,422) rotate(-90)`).attr("text-anchor","middle").attr("font-size",30).attr("fill","#000");
yl.append("tspan").text("f");
yl.append("tspan").attr("font-style","italic").attr("font-size",21).attr("dy",6).text("p");
yl.append("tspan").attr("dy",-6).text("/f");
yl.append("tspan").attr("font-size",21).attr("dy",6).text("⋆");

// legend
const lg = svg.append("g");
lg.append("rect").attr("x",177).attr("y",35).attr("width",1022).attr("height",125).attr("rx",5)
  .attr("fill","#fff").attr("fill-opacity",0.85).attr("stroke","#cccccc").attr("stroke-width",1.5);
const rowY=[48,78,108,138];
planetNames.forEach((nm,i)=>{
  const col = i<4?0:1, row = i<4?i:i-4;
  const hx = col===0?184:691, tx = col===0?231:737, cy=rowY[row];
  lg.append("line").attr("x1",hx).attr("x2",hx+34).attr("y1",cy).attr("y2",cy).attr("stroke",planetColors[i]).attr("stroke-width",2.5);
  const t = lg.append("text").attr("x",tx).attr("y",cy+6).attr("font-size",16.5).attr("fill","#000");
  t.append("tspan").attr("font-weight","bold").text(nm);
  const parts = planetDetails[i].split("⊕");
  parts.forEach((p,k)=>{
    t.append("tspan").attr("dy", k===0?0:-3).text(p);
    if(k<parts.length-1) t.append("tspan").attr("dy",3).attr("font-size",18).text("⊕");
  });
});
</script>
</body></html>
